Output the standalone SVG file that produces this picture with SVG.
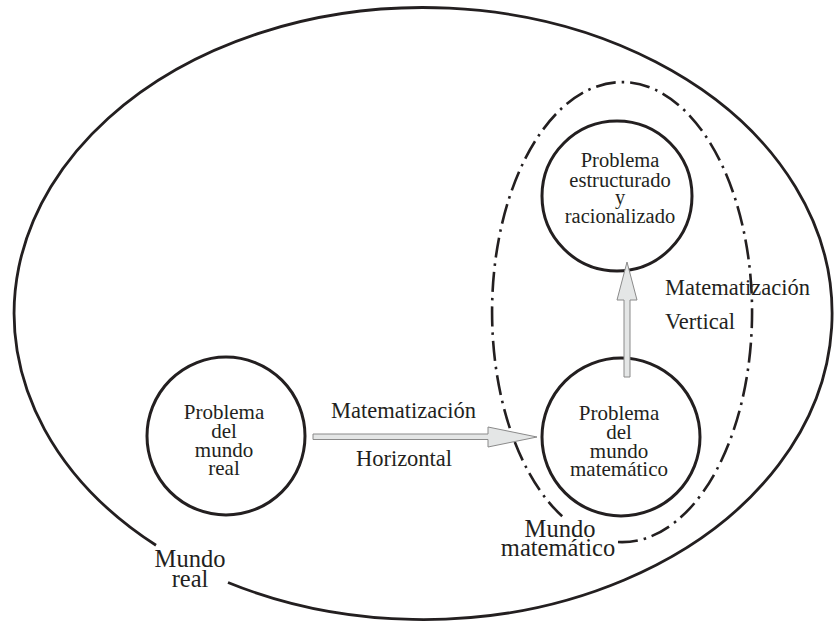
<svg xmlns="http://www.w3.org/2000/svg" width="834" height="623" viewBox="0 0 834 623">
<defs>
<style>
.bg{fill:#ffffff}
.line{fill:none;stroke:#231f20;stroke-width:2.8}
.dashdot{fill:none;stroke:#231f20;stroke-width:2.6;stroke-dasharray:20 6 2.5 6}
.node{fill:none;stroke:#231f20;stroke-width:3}
.arrow{fill:#e4e6e6;stroke:#8a8a8a;stroke-width:1}
.t{font-family:"Liberation Serif","Times New Roman",serif;fill:#231f20;text-anchor:middle}
.c{font-size:21px}
.c2{font-size:20.5px}
.lbl{font-size:22.5px}
.w{font-size:24.5px}
</style>
</defs>
<rect class="bg" x="0" y="0" width="834" height="623"/>

<g id="mundo-real">
<path class="line" d="M 228 582.5 A 409 306 0 1 0 156 545.3"/>
<text class="t w" x="190" y="567">Mundo</text>
<text class="t w" x="190" y="587">real</text>
</g>

<g id="mundo-matematico">
<path class="dashdot" d="M 618 542 A 130 230 0 1 0 563 517"/>
<text class="t w" x="560" y="537">Mundo</text>
<text class="t w" x="558" y="556">matemático</text>
</g>

<g id="problema-mundo-real">
<circle class="node" cx="226" cy="436" r="79"/>
<text class="t c" x="224" y="419">Problema</text>
<text class="t c" x="224" y="438">del</text>
<text class="t c" x="224" y="457">mundo</text>
<text class="t c" x="224" y="475">real</text>
</g>

<g id="problema-mundo-matematico">
<circle class="node" cx="621" cy="437" r="79"/>
<text class="t c" x="619" y="420">Problema</text>
<text class="t c" x="619" y="439">del</text>
<text class="t c" x="619" y="458">mundo</text>
<text class="t c" x="619" y="476">matemático</text>
</g>

<g id="problema-estructurado">
<circle class="node" cx="617" cy="196" r="75"/>
<text class="t c2" x="620" y="167">Problema</text>
<text class="t c2" x="620" y="187">estructurado</text>
<text class="t c2" x="620" y="204">y</text>
<text class="t c2" x="620" y="223">racionalizado</text>
</g>

<g id="connectors">
<polygon class="arrow" points="313,434 488,434 488,427 537,437 488,447 488,439.5 313,439.5"/>
<polygon class="arrow" points="624,377 624,300 617,300 627,262 637,300 630,300 630,377"/>
<text class="t lbl" x="403.5" y="418">Matematización</text>
<text class="t lbl" x="404" y="466">Horizontal</text>
<text class="t lbl" x="665" y="295" style="text-anchor:start">Matematización</text>
<text class="t lbl" x="665" y="329" style="text-anchor:start">Vertical</text>
</g>
</svg>
